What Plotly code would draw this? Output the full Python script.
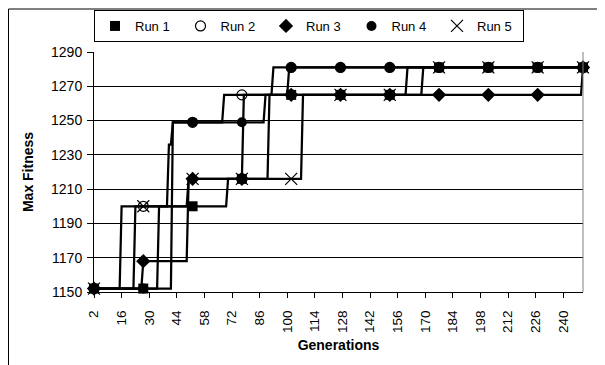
import plotly.graph_objects as go

# ---- data ----
first_gen = 2
last_gen = 250
marker_gens = [2, 27, 52, 77, 102, 127, 152, 177, 202, 227, 250]
x_tick_labels = [2, 16, 30, 44, 58, 72, 86, 100, 114, 128, 142, 156, 170, 184, 198, 212, 226, 240]
y_tick_labels = [1150, 1170, 1190, 1210, 1230, 1250, 1270, 1290]

# step changes: generation at which the max fitness reaches a new value
run1_gens = [2, 35, 70, 78, 161]
run1_fit = [1152, 1200, 1216, 1265, 1281]
run2_gens = [2, 16, 40, 42, 68, 101]
run2_fit = [1152, 1200, 1236, 1249, 1265, 1281]
run3_gens = [2, 27, 50, 91, 250]
run3_fit = [1152, 1168, 1216, 1265, 1281]
run4_gens = [2, 42, 89, 93]
run4_fit = [1152, 1249, 1265, 1281]
run5_gens = [2, 23, 50, 108, 169]
run5_fit = [1152, 1200, 1216, 1265, 1281]

run_names = ["Run 1", "Run 2", "Run 3", "Run 4", "Run 5"]
run_steps = [(run1_gens, run1_fit), (run2_gens, run2_fit), (run3_gens, run3_fit),
             (run4_gens, run4_fit), (run5_gens, run5_fit)]
symbols = ["square", "circle-open", "diamond", "circle", "x-thin-open"]
sizes = [10, 10, 11, 10, 12]

generations = list(range(first_gen, last_gen + 1))


def value_at(gens, fits, g):
    v = fits[0]
    for cg, cf in zip(gens, fits):
        if g >= cg:
            v = cf
    return v


fig = go.Figure()
for name, (gs, fs), sym, sz in zip(run_names, run_steps, symbols, sizes):
    ys = [value_at(gs, fs, g) for g in generations]
    fig.add_trace(go.Scatter(
        x=generations, y=ys, mode="lines", line=dict(color="black", width=2.25),
        showlegend=False, cliponaxis=False, hoverinfo="skip"))
    my = [value_at(gs, fs, g) for g in marker_gens]
    fig.add_trace(go.Scatter(
        x=marker_gens, y=my, mode="markers", name=name, cliponaxis=False,
        marker=dict(symbol=sym, size=sz, color="black",
                    line=dict(color="black", width=1.2 if sym.endswith("open") else 0))))

font_family = "Liberation Sans, Arial, sans-serif"

# the page places the figure 8px from the top-left corner
W, H = 597, 357
ML, MR, MT, MB = 86, 22, 44, 73
PW, PH = W - ML - MR, H - MT - MB

fig.update_layout(
    width=W, height=H,
    margin=dict(l=ML, r=MR, t=MT, b=MB, autoexpand=False),
    paper_bgcolor="white", plot_bgcolor="white",
    font=dict(family=font_family, size=13, color="black"),
    xaxis=dict(
        range=[first_gen, last_gen], automargin=False,
        tickmode="array", tickvals=x_tick_labels, ticktext=[str(v) for v in x_tick_labels],
        tickangle=-90, ticks="outside", ticklen=5, tickcolor="black", tickwidth=1,
        ticklabelstandoff=7,
        showline=True, linecolor="black", linewidth=1, showgrid=False, zeroline=False,
        tickfont=dict(size=13.5),
        title=dict(text="Generations", font=dict(size=14, weight="bold"), standoff=8),
    ),
    yaxis=dict(
        range=[1150, 1290], automargin=False,
        tickmode="array", tickvals=y_tick_labels, ticktext=[str(v) for v in y_tick_labels],
        ticks="outside", ticklen=6, tickcolor="black", tickwidth=1,
        ticklabelstandoff=2,
        showline=True, linecolor="black", linewidth=1,
        showgrid=True, gridcolor="black", gridwidth=1, zeroline=False,
        tickfont=dict(size=14),
        title=dict(text="Max Fitness", font=dict(size=14, weight="bold"), standoff=14),
    ),
    legend=dict(
        orientation="h", x=0.0, xanchor="left", y=(PH + MT - 2) / PH, yanchor="top",
        bgcolor="white", bordercolor="black", borderwidth=1,
        font=dict(size=13), entrywidth=40.5, entrywidthmode="pixels",
        itemwidth=30,
    ),
    shapes=[
        dict(type="line", xref="paper", yref="paper", x0=1, x1=1, y0=0, y1=1,
             line=dict(color="#808080", width=1)),
        dict(type="rect", xref="paper", yref="paper",
             x0=(0.5 - ML) / PW, x1=(W + 10 - ML) / PW,
             y0=-(MB + 10) / PH, y1=(PH + MT - 1) / PH,
             line=dict(color="black", width=1), layer="below"),
    ],
)

fig.write_html("out.html")
